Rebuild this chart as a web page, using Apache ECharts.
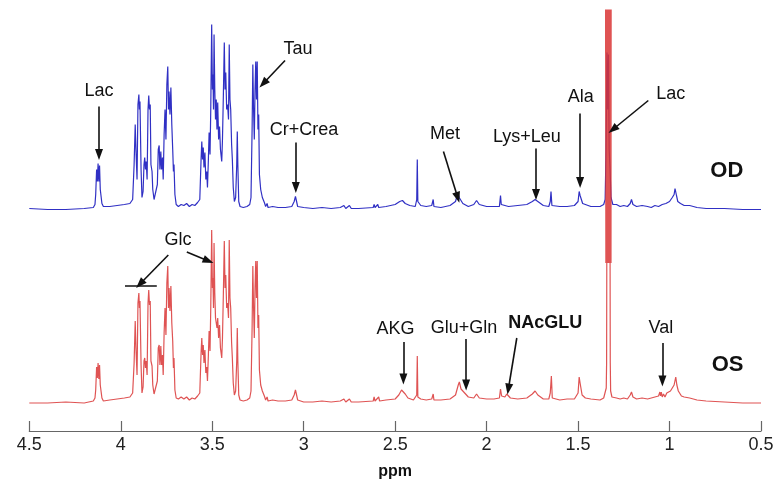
<!DOCTYPE html>
<html><head><meta charset="utf-8">
<script src="https://cdn.jsdelivr.net/npm/echarts@6/dist/echarts.min.js"></script>
<style>html,body{margin:0;padding:0;background:#fff}#c{width:775px;height:481px}</style>
</head><body><div id="c"></div>
<script>
// x ticks (ppm)
const ppmTicks = [4.5, 4, 3.5, 3, 2.5, 2, 1.5, 1, 0.5];

// OD spectrum (blue): [ppm, intensity above its baseline]
const odSpectrum = [
[4.500,1],[4.400,0],[4.300,0],[4.200,1],[4.150,2],
[4.141,5],[4.137,15],[4.132,40],[4.128,28],[4.124,46],[4.120,28],[4.116,44],[4.112,20],[4.108,22],[4.103,6],[4.095,3],[4.06,3],[4.02,4],[3.98,5],[3.95,6],[3.935,10],
[3.927,45],[3.921,85],[3.917,60],[3.911,30],[3.906,105],[3.901,115],[3.898,100],[3.895,108],[3.889,40],[3.884,12],[3.878,18],[3.873,45],[3.869,52],[3.865,40],[3.861,48],[3.856,30],[3.851,100],[3.847,114],[3.843,100],[3.839,105],[3.835,45],[3.829,38],[3.825,20],[3.818,10],[3.808,8],
[3.800,25],[3.795,60],[3.790,64],[3.786,40],[3.781,58],[3.777,40],[3.772,52],[3.768,30],[3.763,75],[3.758,100],[3.753,70],[3.748,125],[3.743,143],[3.739,100],[3.736,118],[3.731,95],[3.726,122],[3.721,85],[3.716,60],[3.712,38],[3.709,45],[3.704,15],[3.697,5],[3.685,3],[3.67,5],[3.655,4],[3.64,6],[3.625,3],[3.61,5],[3.595,4],[3.58,7],[3.568,10],
[3.561,50],[3.557,68],[3.553,50],[3.549,62],[3.545,42],[3.540,57],[3.535,30],[3.530,38],[3.526,22],[3.521,50],[3.517,77],[3.512,55],[3.508,100],[3.503,185],[3.499,120],[3.496,135],[3.493,100],[3.490,175],[3.486,120],[3.482,90],[3.478,110],[3.474,80],[3.470,107],[3.465,70],[3.460,83],[3.455,60],[3.448,48],[3.444,70],[3.439,115],[3.434,167],[3.430,120],[3.426,137],[3.421,100],[3.416,105],[3.411,90],[3.407,165],[3.403,110],[3.399,100],[3.394,65],[3.390,50],[3.385,22],[3.379,8],[3.372,12],[3.366,45],[3.363,78],[3.360,45],[3.355,8],[3.348,3],[3.33,2],[3.31,3],[3.295,5],
[3.288,12],[3.282,80],[3.278,145],[3.274,100],[3.270,70],[3.266,120],[3.262,148],[3.258,110],[3.254,148],[3.250,80],[3.246,95],[3.242,35],[3.235,20],[3.226,12],[3.215,7],[3.208,3],[3.200,6],[3.195,2],[3.17,3],[3.14,2],[3.10,2],[3.065,3],[3.052,8],[3.045,13],[3.040,9],[3.033,3],[3.00,2],
[2.95,1],[2.90,2],[2.85,1],[2.80,2],[2.78,4],[2.77,1],[2.75,4],[2.74,1],[2.70,1],[2.62,2],[2.615,5],[2.61,2],[2.595,5],[2.59,2],[2.55,3],[2.50,5],[2.475,8],[2.46,9],[2.445,6],[2.42,4],[2.39,3],[2.382,10],[2.379,50],[2.376,8],[2.36,4],[2.33,3],[2.30,4],[2.292,10],[2.288,3],[2.25,2],[2.20,4],[2.17,8],[2.158,16],[2.150,12],[2.13,6],[2.10,3],[2.07,5],[2.055,9],[2.04,5],[2.00,3],[1.96,3],[1.93,3],[1.924,14],[1.92,5],[1.88,3],[1.83,4],[1.78,5],[1.75,8],[1.735,10],[1.72,8],[1.69,4],[1.66,3],[1.652,8],[1.648,18],[1.643,4],[1.60,3],[1.56,3],[1.52,4],[1.50,8],[1.494,18],[1.489,14],[1.484,12],[1.475,6],[1.46,5],[1.43,3],[1.38,3],[1.36,5],
[1.352,10],[1.347,60],[1.342,157],[1.338,100],[1.334,155],[1.330,60],[1.325,40],[1.320,12],[1.31,5],[1.29,5],[1.27,3],[1.25,4],[1.23,3],[1.215,6],[1.208,10],[1.200,5],[1.18,3],[1.15,4],[1.12,3],[1.10,2],[1.08,4],[1.06,3],[1.04,5],[1.02,6],[1.00,8],[0.985,12],[0.975,15],[0.970,21],[0.962,14],[0.955,8],[0.94,6],[0.92,4],[0.89,4],[0.87,3],[0.85,2],[0.80,1],[0.70,1],[0.60,0],[0.50,0]
];

// OS spectrum (red): [ppm, intensity above its baseline]
const osSpectrum = [
[4.500,0],[4.40,0],[4.30,1],[4.20,0],[4.15,2],
[4.141,5],[4.137,13],[4.132,36],[4.128,25],[4.124,40],[4.120,24],[4.116,38],[4.112,18],[4.108,20],[4.103,5],[4.095,2],[4.06,3],[4.02,4],[3.98,5],[3.95,6],[3.935,10],
[3.927,40],[3.921,82],[3.917,55],[3.911,28],[3.906,100],[3.901,110],[3.898,95],[3.895,102],[3.889,38],[3.884,10],[3.878,16],[3.873,42],[3.869,45],[3.865,35],[3.861,42],[3.856,28],[3.851,100],[3.847,113],[3.843,98],[3.839,102],[3.835,42],[3.829,37],[3.825,18],[3.818,9],[3.808,7],
[3.800,22],[3.795,55],[3.790,58],[3.786,38],[3.781,57],[3.777,38],[3.772,48],[3.768,28],[3.763,70],[3.758,95],[3.753,68],[3.748,120],[3.743,137],[3.739,95],[3.736,115],[3.731,92],[3.726,117],[3.721,80],[3.716,62],[3.712,35],[3.709,45],[3.704,13],[3.697,5],[3.685,4],[3.67,6],[3.655,4],[3.64,6],[3.625,3],[3.61,5],[3.595,4],[3.58,7],[3.568,10],
[3.561,50],[3.557,65],[3.553,48],[3.549,58],[3.545,40],[3.540,53],[3.535,30],[3.530,36],[3.526,22],[3.521,48],[3.517,72],[3.512,52],[3.508,95],[3.503,173],[3.499,115],[3.496,125],[3.493,95],[3.490,160],[3.486,110],[3.482,85],[3.478,87],[3.474,75],[3.470,85],[3.465,65],[3.460,78],[3.455,55],[3.448,45],[3.444,65],[3.439,110],[3.434,162],[3.430,115],[3.426,128],[3.421,95],[3.416,100],[3.411,85],[3.407,163],[3.403,105],[3.399,95],[3.394,60],[3.390,45],[3.385,20],[3.379,8],[3.372,12],[3.366,42],[3.363,75],[3.360,42],[3.355,8],[3.348,3],[3.33,2],[3.31,3],[3.295,5],
[3.288,12],[3.282,75],[3.278,137],[3.274,95],[3.270,65],[3.266,115],[3.262,142],[3.258,105],[3.254,142],[3.250,75],[3.246,88],[3.242,33],[3.235,18],[3.226,12],[3.215,7],[3.208,3],[3.200,6],[3.195,2],[3.17,3],[3.14,2],[3.10,2],[3.065,3],[3.052,8],[3.045,13],[3.040,9],[3.033,3],[3.00,1],
[2.95,1],[2.90,2],[2.85,1],[2.80,2],[2.78,4],[2.77,1],[2.75,4],[2.74,1],[2.70,1],[2.62,2],[2.615,6],[2.61,2],[2.59,6],[2.585,2],[2.55,3],[2.50,4],[2.48,8],[2.465,13],[2.455,14],[2.445,9],[2.43,5],[2.40,3],[2.382,8],[2.379,47],[2.376,6],[2.36,4],[2.33,3],[2.30,4],[2.292,9],[2.288,3],[2.25,3],[2.20,4],[2.17,8],[2.155,18],[2.149,21],[2.140,14],[2.12,10],[2.10,6],[2.07,5],[2.055,9],[2.04,5],[2.00,4],[1.96,4],[1.93,5],[1.924,14],[1.918,7],[1.90,6],[1.89,9],[1.87,5],[1.83,4],[1.78,5],[1.75,9],[1.735,12],[1.72,8],[1.69,4],[1.66,4],[1.652,10],[1.646,27],[1.641,5],[1.60,3],[1.56,4],[1.52,4],[1.50,10],[1.494,26],[1.489,20],[1.484,22],[1.478,8],[1.46,5],[1.43,4],[1.38,3],[1.36,5],
[1.352,7],[1.346,15],[1.344,40],[1.343,140],[1.350,450],[1.348,140],[1.346,450],[1.344,140],[1.342,450],[1.340,140],[1.338,450],[1.336,140],[1.334,450],[1.332,140],[1.330,450],[1.328,140],[1.326,450],[1.324,140],[1.322,450],[1.320,140],[1.319,450],[1.325,140],[1.324,40],[1.322,12],[1.315,6],[1.31,5],
[1.29,5],[1.27,4],[1.25,5],[1.23,4],[1.215,8],[1.208,11],[1.200,6],[1.18,4],[1.15,5],[1.12,4],[1.10,5],[1.08,6],[1.06,7],[1.053,11],[1.049,7],[1.045,11],[1.040,6],[1.033,9],[1.025,6],[1.015,10],[1.005,8],[0.995,12],[0.985,15],[0.975,18],[0.966,26],[0.960,18],[0.952,12],[0.945,14],[0.935,7],[0.92,6],[0.89,5],[0.87,4],[0.85,3],[0.80,2],[0.70,1],[0.60,0],[0.50,0]
];

// annotation texts: [text, ppm, intensity, bold, fontSize]
const odTexts = [
['Lac',4.119,118,false,18],['Tau',3.031,160,false,18],['Cr+Crea',2.998,79,false,18],
['Met',2.227,75,false,18],['Lys+Leu',1.780,72,false,18],['Ala',1.485,112,false,18],
['Lac',0.993,115,false,18],['OD',0.687,39,true,22]
];
const osTexts = [
['Glc',3.687,163,false,18],['AKG',2.498,74,false,18],['Glu+Gln',2.123,75,false,18],
['NAcGLU',1.680,80,true,18],['Val',1.047,75,false,18],['OS',0.683,38,true,22]
];
// arrows: [fromPpm, fromInt, toPpm, toInt, hasArrowHead]
const odArrows = [
[4.119,103,4.119,55,true],[3.102,149,3.221,126,true],[3.043,67,3.043,22,true],
[2.236,58,2.158,12,true],[1.730,61,1.730,15,true],[1.489,96,1.489,27,true],
[1.116,109,1.310,80,true]
];
const osArrows = [
[3.740,148,3.895,119,true],[3.977,117,3.803,117,false],[3.639,151,3.521,142,true],
[2.455,61,2.455,24,true],[2.112,64,2.112,18,true],[1.835,65,1.881,14,true],
[1.039,60,1.039,22,true]
];

const FONT = 'Liberation Sans, Arial, sans-serif';
function mkPoints(list){
  return {
    symbol:'circle', symbolSize:1, silent:true, animation:false,
    itemStyle:{color:'rgba(0,0,0,0)'},
    data: list.map(t => ({
      coord:[t[1],t[2]], value:t[0],
      label:{show:true, position:'inside', formatter:t[0], color:'#111',
        fontFamily:FONT, fontSize:t[4], fontWeight:t[3]?'bold':'normal'}
    }))
  };
}
function mkLines(list){
  return {
    silent:true, animation:false, symbolSize:[8,11],
    label:{show:false},
    lineStyle:{color:'#111', width:1.6, type:'solid'},
    emphasis:{disabled:true},
    data: list.map(a => [
      {coord:[a[0],a[1]], symbol:'none'},
      {coord:[a[2],a[3]], symbol: a[4] ? 'triangle' : 'none'}
    ])
  };
}

const chart = echarts.init(document.getElementById('c'), null, {renderer:'canvas'});
chart.setOption({
  animation:false,
  backgroundColor:'#fff',
  grid:{left:29.3, right:14, top:10, bottom:50, containLabel:false, outerBoundsMode:'none'},
  xAxis:{
    type:'value', inverse:true,
    min:Math.min(...ppmTicks), max:Math.max(...ppmTicks), interval:0.5,
    name:'ppm', nameLocation:'middle', nameGap:33,
    nameTextStyle:{fontFamily:FONT, fontSize:16, fontWeight:'bold', color:'#111'},
    axisLine:{show:true, onZero:false, lineStyle:{color:'#666', width:1.2}},
    axisTick:{show:true, inside:true, length:10, lineStyle:{color:'#666', width:1.2}},
    axisLabel:{fontFamily:FONT, fontSize:18, color:'#222', margin:5},
    splitLine:{show:false}
  },
  yAxis:[
    {type:'value', show:false, min:-221.5, max:199.5, splitLine:{show:false}},
    {type:'value', show:false, min:-28, max:393, splitLine:{show:false}}
  ],
  series:[
    {type:'line', name:'OD', yAxisIndex:0, data:odSpectrum, showSymbol:false, symbol:'none',
     lineStyle:{color:'#3030c4', width:1.2}, clip:true, z:2,
     markLine:mkLines(odArrows), markPoint:mkPoints(odTexts)},
    {type:'line', name:'OS', yAxisIndex:1, data:osSpectrum, showSymbol:false, symbol:'none',
     lineStyle:{color:'#d93535', width:1.2, opacity:0.85}, clip:true, z:3,
     markLine:mkLines(osArrows), markPoint:mkPoints(osTexts)}
  ]
});
</script></body></html>
